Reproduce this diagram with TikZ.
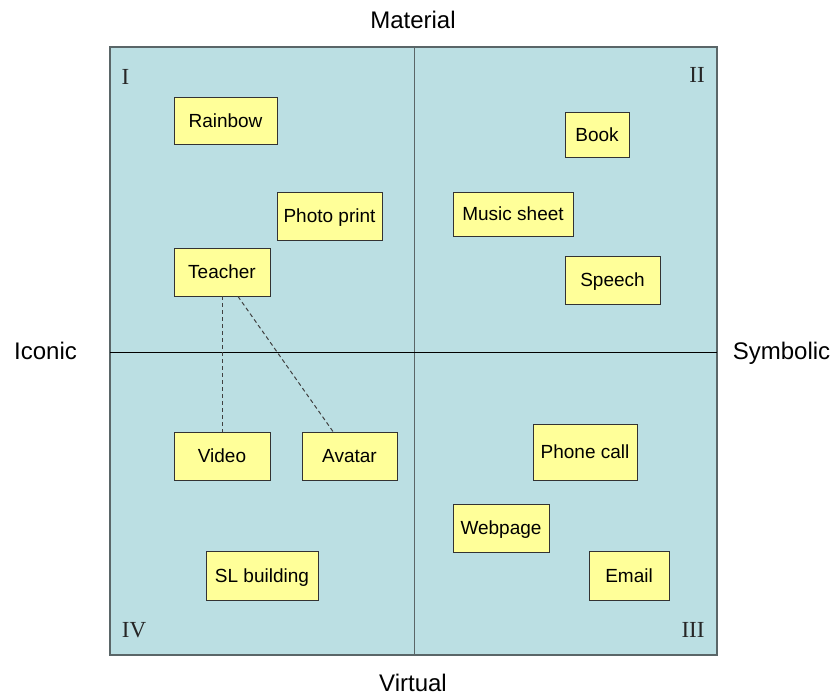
\documentclass[tikz,border=0pt]{standalone}
\usepackage{fontspec}
\setmainfont{Liberation Serif}
\setsansfont{Liberation Sans}
\usepackage{xcolor}
\usepackage{tikz}
\usetikzlibrary{positioning,calc}

\definecolor{quadfill}{HTML}{BBDFE3}
\definecolor{cardfill}{HTML}{FFFF99}
\definecolor{quadedge}{HTML}{5A6668}

\begin{document}
\begin{tikzpicture}[x=1pt, y=-1pt,
    card/.style={draw=black!80, fill=cardfill, line width=0.9pt, inner sep=0pt,
        text height=13.6pt, text depth=0pt,
        font=\sffamily\fontsize{19}{22}\selectfont},
    axislabel/.style={anchor=base, font=\sffamily\fontsize{24}{28}\selectfont},
    quadnum/.style={anchor=base, font=\rmfamily\fontsize{23}{26}\selectfont, text=black!85},
    link/.style={dashed, dash pattern=on 4pt off 3pt, line width=1pt, draw=black!75}]
    \useasboundingbox (0,0) rectangle (834,695);

    % Quadrants
    \draw[fill=quadfill, draw=quadedge, line width=1.3pt] (110,47) rectangle (717,655);
    \draw[line width=1pt, draw=quadedge] (414,47) -- (414,655);
    \draw[line width=1pt] (110,352) -- (717,352);

    % Axis labels
    \node[axislabel] (mat) at (413,29) {Material};
    \node[axislabel] (vir) at (413,691.5) {Virtual};
    \node[axislabel] (ico) at (45.5,359) {Iconic};
    \node[axislabel] (sym) at (781.5,359) {Symbolic};

    % Quadrant numbers
    \node[quadnum] (q1) at (125.5,84.3) {I};
    \node[quadnum] (q2) at (697,82.7) {II};
    \node[quadnum] (q3) at (693,637.7) {III};
    \node[quadnum] (q4) at (134,637.7) {IV};

    % Material / iconic
    \node[card, minimum width=103pt, minimum height=47pt] (rainbow) at (225.5,120.5) {Rainbow};
    \node[card, minimum width=105pt, minimum height=48pt] (photo) at (329.5,216) {Photo print};
    \node[card, minimum width=96pt, minimum height=48pt] (teacher) at (222,272) {Teacher};

    % Material / symbolic
    \node[card, minimum width=64pt, minimum height=45pt] (book) at (597,134.5) {Book};
    \node[card, minimum width=120pt, minimum height=44pt] (music) at (513,214) {Music sheet};
    \node[card, minimum width=95pt, minimum height=48pt] (speech) at (612.5,280) {Speech};

    % Virtual / iconic
    \node[card, minimum width=96pt, minimum height=48pt] (video) at (222,456) {Video};
    \node[card, minimum width=95pt, minimum height=48pt] (avatar) at (349.5,456) {Avatar};
    \node[card, minimum width=112pt, minimum height=49pt] (slbuild) at (262,575.5) {SL building};

    % Virtual / symbolic
    \node[card, minimum width=104pt, minimum height=56pt] (phone) at (585,452) {Phone call};
    \node[card, minimum width=96pt, minimum height=48pt] (webpage) at (501,528) {Webpage};
    \node[card, minimum width=80pt, minimum height=49pt] (email) at (629,575.5) {Email};

    % Links from teacher
    \draw[link] (teacher.south) -- (video.north);
    \draw[link] ($(teacher.south)+(16,0)$) -- ($(avatar.north)+(-16.5,0)$);
\end{tikzpicture}
\end{document}
